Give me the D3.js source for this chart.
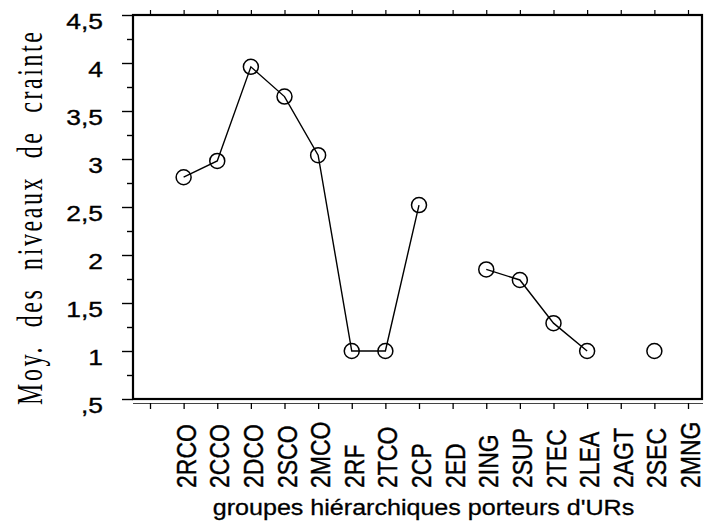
<!DOCTYPE html>
<html>
<head>
<meta charset="utf-8">
<script src="https://cdn.jsdelivr.net/npm/d3@7"></script>
<style>
  body { margin: 0; background: #fff; }
  svg { display: block; }
</style>
</head>
<body>
<svg id="chart" width="705" height="526"></svg>
<script>
// groupes hiérarchiques (axe x) et moyennes
const categories = ["2RCO", "2CCO", "2DCO", "2SCO", "2MCO", "2RF", "2TCO", "2CP",
                    "2ED", "2ING", "2SUP", "2TEC", "2LEA", "2AGT", "2SEC", "2MNG"];
const values = [2.81, 2.98, 3.96, 3.65, 3.04, 1.0, 1.0, 2.52,
                null, 1.85, 1.74, 1.29, 1.0, null, 1.0, null];
const yTickValues = [0.5, 1, 1.5, 2, 2.5, 3, 3.5, 4, 4.5];
const yTickLabels = [",5", "1", "1,5", "2", "2,5", "3", "3,5", "4", "4,5"];
const xTitle = "groupes hiérarchiques porteurs d'URs";
const yTitle = "Moy. des niveaux de crainte";

const frame = { left: 133, top: 15, right: 702, bottom: 399 };
const sans = "'Liberation Sans', Arial, sans-serif";
const serif = "'Liberation Serif', 'Times New Roman', serif";

const svg = d3.select("#chart");

// un pas vide avant la premiere categorie, comme sur l'original
const x = d3.scaleLinear().domain([-1, 15]).range([150, 688]);
const y = d3.scaleLinear().domain([0.5, 4.5]).range([frame.bottom, frame.top]);

const data = categories.map((c, i) => ({ c: c, i: i, v: values[i] }));

// axe y : grands traits + petits traits
svg.append("g")
    .attr("transform", `translate(${frame.left},0)`)
    .call(d3.axisLeft(y).tickValues(yTickValues).tickSize(11).tickFormat(""))
    .call(g => g.select(".domain").remove())
    .call(g => g.selectAll("line").attr("stroke", "#000").attr("stroke-width", 1.4));

svg.append("g")
    .attr("transform", `translate(${frame.left},0)`)
    .call(d3.axisLeft(y).tickValues(d3.range(0.75, 4.5, 0.5)).tickSize(6).tickFormat(""))
    .call(g => g.select(".domain").remove())
    .call(g => g.selectAll("line").attr("stroke", "#000").attr("stroke-width", 1.4));

// libellés y
svg.append("g").selectAll("text")
    .data(yTickValues)
    .join("text")
    .attr("transform", d => `translate(103,${y(d) + 14}) scale(1.2,1)`)
    .attr("text-anchor", "end")
    .attr("font-family", sans)
    .attr("font-size", 22)
    .attr("stroke", "#000")
    .attr("stroke-width", 0.35)
    .text((d, i) => yTickLabels[i]);

// axe x en bas (ligne fine décalée + traits)
svg.append("g")
    .attr("transform", "translate(0,403)")
    .call(d3.axisBottom(x).tickValues(d3.range(-1, 16)).tickSize(6).tickSizeOuter(0).tickFormat(""))
    .call(g => g.select(".domain").attr("d", `M${frame.left},0.5H${frame.right + 1}`).attr("stroke", "#444"))
    .call(g => g.selectAll("line").attr("stroke", "#000").attr("stroke-width", 1.3));

// traits en haut
svg.append("g")
    .attr("transform", `translate(0,${frame.top})`)
    .call(d3.axisTop(x).tickValues(d3.range(-1, 16)).tickSize(5).tickFormat(""))
    .call(g => g.select(".domain").remove())
    .call(g => g.selectAll("line").attr("stroke", "#000").attr("stroke-width", 1.2));

// cadre
svg.append("rect")
    .attr("x", frame.left)
    .attr("y", frame.top)
    .attr("width", frame.right - frame.left)
    .attr("height", frame.bottom - frame.top)
    .attr("fill", "none")
    .attr("stroke", "#000")
    .attr("stroke-width", 2.2);

// libellés x, verticaux
svg.append("g").selectAll("text")
    .data(data)
    .join("text")
    .attr("transform", d => `translate(${x(d.i) + 12},488) scale(1.2,1) rotate(-90)`)
    .attr("text-anchor", "start")
    .attr("font-family", sans)
    .attr("font-size", 23)
    .attr("stroke", "#000")
    .attr("stroke-width", 0.35)
    .text(d => d.c);

// courbe (interrompue quand la valeur manque)
const line = d3.line()
    .defined(d => d.v != null)
    .x(d => x(d.i))
    .y(d => y(d.v));

svg.append("path")
    .datum(data)
    .attr("d", line)
    .attr("fill", "none")
    .attr("stroke", "#000")
    .attr("stroke-width", 1.4);

svg.append("g").selectAll("circle")
    .data(data.filter(d => d.v != null))
    .join("circle")
    .attr("cx", d => x(d.i))
    .attr("cy", d => y(d.v))
    .attr("r", 7.5)
    .attr("fill", "none")
    .attr("stroke", "#000")
    .attr("stroke-width", 1.5);

// titres
svg.append("text")
    .attr("transform", "translate(423.5,515) scale(1.14,1)")
    .attr("text-anchor", "middle")
    .attr("font-family", sans)
    .attr("font-size", 22)
    .attr("stroke", "#000")
    .attr("stroke-width", 0.3)
    .text(xTitle);

svg.append("text")
    .attr("transform", "translate(42,405) rotate(-90) scale(1,1.45)")
    .attr("text-anchor", "start")
    .attr("font-family", serif)
    .attr("font-size", 24)
    .attr("word-spacing", 9)
    .attr("textLength", 373)
    .attr("lengthAdjust", "spacing")
    .text(yTitle);
</script>
</body>
</html>
